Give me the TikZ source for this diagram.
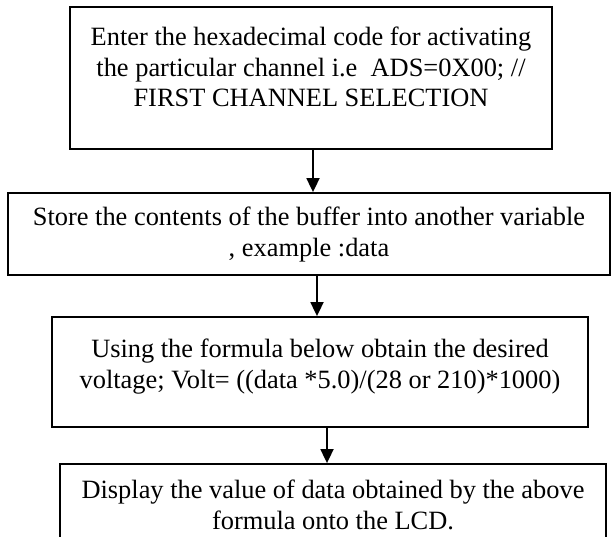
\documentclass[tikz,border=0pt]{standalone}
\usepackage{fontspec}
\setmainfont{Liberation Serif}
\usetikzlibrary{arrows.meta}
\usetikzlibrary{positioning}
\tikzset{
	>={Triangle[length=14pt, width=13pt]},
	stepbox/.style={draw=black, line width=1.8pt, rectangle, inner sep=0pt},
	steptext/.style={align=center, inner sep=0pt, font=\fontsize{26.4}{30.4}\selectfont},
	flow/.style={black, line width=1.8pt, ->},
}
\begin{document}
\begin{tikzpicture}[x=1pt, y=-1pt, line cap=butt, line join=miter]
		
		% ---- Page (611 x 537) ----
		\useasboundingbox (0,0) rectangle (611,537);
		\clip (0,0) rectangle (611,537);
		
		% ---- Boxes ----
		\node[stepbox, minimum width=482pt, minimum height=142pt] (enter) at (311,78) {};
		\node[stepbox, minimum width=602pt, minimum height=82pt] (store) at (309,234) {};
		\node[stepbox, minimum width=536pt, minimum height=110pt] (formula) at (320,372) {};
		\node[stepbox, minimum width=546pt, minimum height=116pt] (display) at (333,522) {};
		
		% ---- Texts (top of each box) ----
		\node[steptext, below=21pt of enter.north] (entertext)
		{Enter the hexadecimal code for activating\\the particular channel i.e\ \ ADS=0X00; //\\FIRST CHANNEL SELECTION};
		\node[steptext, below=15pt of store.north] (storetext)
		{Store the contents of the buffer into another variable\\, example :data};
		\node[steptext, below=23pt of formula.north] (formulatext)
		{Using the formula below obtain the desired\\voltage; Volt= ((data *5.0)/(28 or 210)*1000)};
		\node[steptext, below=17pt of display.north] (displaytext)
		{Display the value of data obtained by the above\\formula onto the LCD.};
		
		% ---- Arrows ----
		\draw[flow] ([xshift=2pt]enter.south) -- ([xshift=4pt]store.north);
		\draw[flow] ([xshift=8pt]store.south) -- ([xshift=-3pt]formula.north);
		\draw[flow] ([xshift=7pt]formula.south) -- ([xshift=-6pt]display.north);
		
	\end{tikzpicture}
\end{document}
